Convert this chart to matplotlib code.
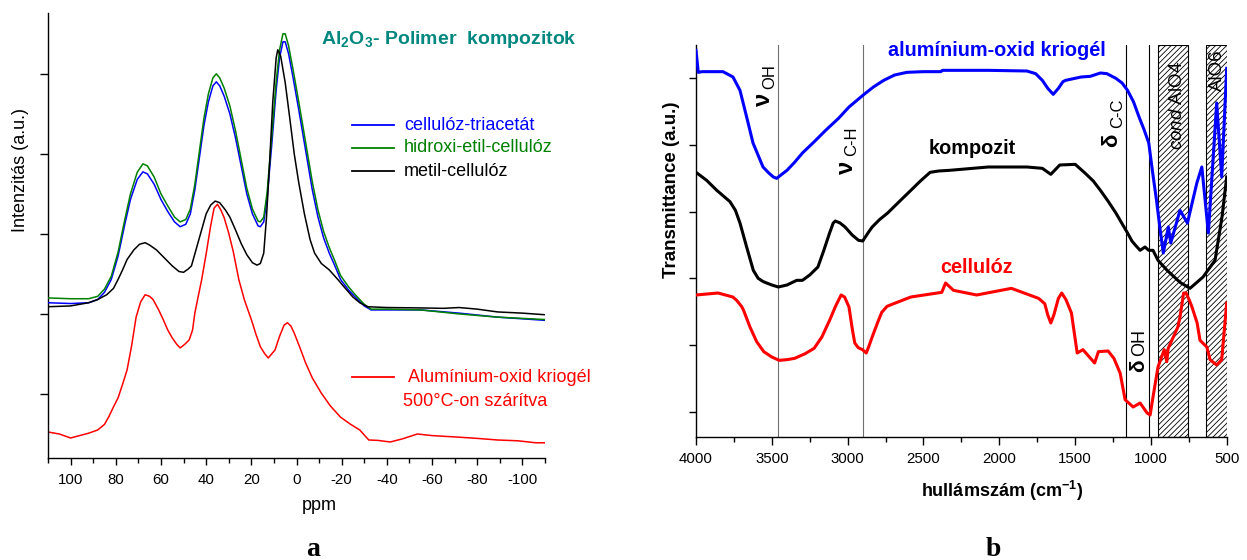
import matplotlib
matplotlib.use("Agg")
import matplotlib.pyplot as plt
from matplotlib.lines import Line2D

plt.rcParams['font.family'] = ['Liberation Sans', 'DejaVu Sans']
plt.rcParams['mathtext.fontset'] = 'custom'
plt.rcParams['mathtext.rm'] = 'Liberation Sans'
plt.rcParams['mathtext.bf'] = 'Liberation Sans:bold'
plt.rcParams['mathtext.it'] = 'Liberation Sans:italic'
plt.rcParams['hatch.linewidth'] = 0.6
plt.rcParams['axes.unicode_minus'] = False

# ---------------- panel a : NMR (ppm) ----------------
ppm_red = [110, 105, 100, 96, 92, 88, 85, 83, 81, 79, 77, 75, 73, 71, 69, 67, 65, 63.5, 61, 59, 57,
           55, 53, 51.5, 49.5, 47.5, 46, 45, 43.5, 42, 40, 38, 36.5, 35, 33.5, 32, 30, 28, 25.5,
           23, 20, 18, 16, 14, 12.5, 11, 9.5, 7.5, 5.5, 4, 2.5, 1, -1.5, -4, -7, -11, -15, -19.5,
           -24, -28, -32, -36, -41.5, -47, -53.5, -60, -66, -72, -80, -89, -98, -106, -110]
int_red = [-0.475, -0.50, -0.55, -0.52, -0.49, -0.45, -0.38, -0.28, -0.16, -0.05, 0.12, 0.30, 0.60,
           0.96, 1.15, 1.24, 1.22, 1.18, 1.05, 0.93, 0.80, 0.70, 0.62, 0.575, 0.62, 0.675, 0.80,
           1.01, 1.22, 1.425, 1.75, 2.10, 2.32, 2.37, 2.30, 2.20, 2.01, 1.78, 1.425, 1.17, 0.93,
           0.75, 0.59, 0.50, 0.45, 0.50, 0.55, 0.72, 0.86, 0.89, 0.85, 0.76, 0.58, 0.39, 0.20,
           0.01, -0.15, -0.29, -0.38, -0.45, -0.575, -0.58, -0.60, -0.56, -0.50, -0.52, -0.53,
           -0.54, -0.555, -0.575, -0.585, -0.61, -0.61]

ppm_ct = [110, 100, 92, 88, 85, 82, 79, 76, 73.5, 70.5, 68, 66, 63, 60, 57, 54, 51.5, 49, 47, 45,
          43, 41, 39, 37, 35.5, 34, 32, 29.5, 27, 24.5, 22, 19.5, 17, 16, 14.5, 13, 11, 9, 7.5, 6,
          5, 3.5, 1.5, -1, -4, -7, -9.5, -12, -14.5, -17, -19.5, -23, -26, -30, -33, -40, -55,
          -72, -89, -110]
int_blue = [1.14, 1.13, 1.14, 1.18, 1.27, 1.43, 1.72, 2.12, 2.43, 2.68, 2.775, 2.75, 2.62, 2.43,
            2.28, 2.15, 2.09, 2.12, 2.25, 2.55, 2.95, 3.35, 3.65, 3.85, 3.90, 3.85, 3.72, 3.50,
            3.20, 2.85, 2.50, 2.25, 2.10, 2.09, 2.15, 2.45, 3.10, 3.80, 4.20, 4.40, 4.40, 4.25,
            3.95, 3.55, 3.05, 2.55, 2.21, 1.95, 1.76, 1.60, 1.43, 1.30, 1.21, 1.10, 1.05, 1.05,
            1.05, 1.01, 0.96, 0.92]
int_green = [1.20, 1.19, 1.19, 1.22, 1.31, 1.47, 1.77, 2.18, 2.50, 2.77, 2.875, 2.85, 2.71, 2.50,
             2.35, 2.21, 2.15, 2.18, 2.31, 2.62, 3.03, 3.44, 3.75, 3.95, 4.00, 3.95, 3.82, 3.60,
             3.29, 2.93, 2.57, 2.31, 2.16, 2.15, 2.21, 2.52, 3.20, 3.90, 4.30, 4.50, 4.50, 4.35,
             4.05, 3.65, 3.15, 2.65, 2.30, 2.03, 1.83, 1.66, 1.48, 1.34, 1.24, 1.12, 1.06, 1.06,
             1.05, 1.00, 0.96, 0.93]

ppm_mc = [110, 100, 92, 88, 84, 81, 79, 77, 75, 72, 69.5, 67, 65, 62, 58.5, 55, 52, 50, 48, 46.5,
          44.5, 42, 40, 38, 36, 34, 31.5, 29.5, 27, 24.5, 22, 19.5, 17.5, 16, 14.5, 13.3, 12,
          10.5, 9, 8.3, 7, 5, 3, 1, -1, -3.5, -6, -8, -11, -14.5, -18, -21, -25, -28, -31.5,
          -40, -55, -65, -72, -80, -89, -100, -110]
int_black = [1.09, 1.10, 1.14, 1.18, 1.24, 1.32, 1.43, 1.55, 1.68, 1.80, 1.87, 1.89, 1.86, 1.80,
             1.70, 1.60, 1.53, 1.52, 1.56, 1.60, 1.80, 2.05, 2.25, 2.36, 2.41, 2.39, 2.30, 2.21,
             2.05, 1.88, 1.74, 1.64, 1.61, 1.63, 1.76, 2.20, 2.84, 3.65, 4.20, 4.30, 4.22, 3.89,
             3.45, 3.00, 2.64, 2.25, 1.93, 1.76, 1.63, 1.55, 1.44, 1.34, 1.21, 1.14, 1.09, 1.08,
             1.075, 1.07, 1.08, 1.06, 1.025, 1.01, 0.99]

ppm_ticks = [100, 80, 60, 40, 20, 0, -20, -40, -60, -80, -100]
legend_a = ['cellulóz-triacetát', 'hidroxi-etil-cellulóz', 'metil-cellulóz']

# ---------------- panel b : FTIR ----------------
wn_blue = [4000, 3985, 3960, 3822, 3756, 3710, 3666, 3624, 3558, 3520, 3490, 3468, 3440, 3400,
           3350, 3298, 3220, 3145, 3060, 2991, 2897, 2830, 2762, 2690, 2609, 2500, 2385, 2375,
           2073, 1818, 1760, 1716, 1680, 1644, 1610, 1580, 1562, 1460, 1400, 1333, 1290, 1231,
           1190, 1154, 1115, 1078, 1045, 1014, 988, 963, 939, 918, 885, 869, 808, 759, 697, 664,
           621, 566, 533, 500]
t_blue = [5.42, 5.09, 5.10, 5.10, 5.02, 4.82, 4.42, 4.03, 3.67, 3.58, 3.52, 3.50, 3.55, 3.62,
          3.74, 3.88, 4.05, 4.22, 4.40, 4.57, 4.75, 4.87, 4.97, 5.05, 5.09, 5.10, 5.10, 5.12,
          5.12, 5.11, 5.07, 4.97, 4.85, 4.76, 4.85, 4.95, 4.97, 5.02, 5.03, 5.08, 5.07, 5.00,
          4.93, 4.82, 4.65, 4.42, 4.23, 4.03, 3.58, 3.17, 2.73, 2.38, 2.77, 2.53, 3.02, 2.83,
          3.43, 3.67, 2.68, 4.63, 3.52, 5.15]

wn_black = [4000, 3930, 3863, 3776, 3740, 3710, 3666, 3622, 3590, 3556, 3500, 3457, 3400, 3336,
            3298, 3250, 3196, 3160, 3119, 3095, 3081, 3050, 3017, 2970, 2928, 2900, 2889, 2860,
            2838, 2790, 2736, 2660, 2583, 2520, 2456, 2400, 2328, 2073, 1818, 1716, 1660, 1601,
            1499, 1435, 1380, 1333, 1280, 1231, 1190, 1154, 1125, 1103, 1071, 1039, 1014, 986,
            953, 893, 808, 742, 656, 577, 531, 500]
t_black = [3.59, 3.47, 3.32, 3.15, 3.02, 2.83, 2.47, 2.12, 2.00, 1.95, 1.90, 1.87, 1.90, 1.97,
           1.97, 2.05, 2.17, 2.40, 2.68, 2.83, 2.86, 2.83, 2.77, 2.65, 2.57, 2.56, 2.60, 2.70,
           2.77, 2.88, 2.98, 3.15, 3.32, 3.46, 3.59, 3.61, 3.62, 3.67, 3.67, 3.65, 3.56, 3.70,
           3.71, 3.58, 3.46, 3.32, 3.15, 2.98, 2.82, 2.68, 2.56, 2.50, 2.42, 2.47, 2.42, 2.42,
           2.27, 2.12, 1.94, 1.85, 2.02, 2.27, 2.92, 3.52]

wn_red = [4000, 3855, 3757, 3732, 3700, 3688, 3644, 3600, 3553, 3500, 3451, 3400, 3349, 3280,
          3221, 3170, 3119, 3080, 3043, 3020, 2991, 2970, 2953, 2930, 2902, 2877, 2860, 2838,
          2800, 2775, 2740, 2685, 2583, 2379, 2354, 2302, 2149, 1920, 1741, 1700, 1680, 1660,
          1640, 1610, 1588, 1560, 1524, 1500, 1486, 1448, 1371, 1346, 1282, 1244, 1203, 1170,
          1117, 1071, 1025, 1005, 986, 953, 912, 895, 886, 822, 808, 784, 768, 746, 729, 695,
          676, 631, 610, 566, 533, 500]
t_red = [1.75, 1.78, 1.72, 1.67, 1.58, 1.53, 1.27, 1.05, 0.90, 0.82, 0.77, 0.78, 0.80, 0.87,
         0.95, 1.12, 1.37, 1.58, 1.75, 1.72, 1.57, 1.25, 1.03, 0.96, 0.93, 0.88, 0.98, 1.12,
         1.35, 1.49, 1.58, 1.63, 1.72, 1.79, 1.93, 1.82, 1.75, 1.85, 1.70, 1.62, 1.45, 1.33,
         1.45, 1.70, 1.78, 1.68, 1.48, 1.10, 0.88, 0.93, 0.73, 0.90, 0.91, 0.80, 0.58, 0.18,
         0.07, 0.13, -0.02, -0.05, 0.22, 0.67, 0.93, 0.75, 0.95, 1.27, 1.42, 1.78, 1.78, 1.67,
         1.57, 1.33, 1.07, 0.97, 0.78, 0.70, 0.78, 1.63]

wn_ticks = [4000, 3500, 3000, 2500, 2000, 1500, 1000, 500]
band_lines = [3460, 2900, 1166, 1014]
band_colors = ['#707070', '#707070', '#000000', '#000000']
boxes = [(951, 753), (638, 500)]

# ---------------- figure ----------------
W, H = 1247, 560
fig = plt.figure(figsize=(W / 100, H / 100), dpi=100)


def fx(px):
    return px / W


def fy(py):
    return 1 - py / H


TICK_FS = 10.8

# panel a
axA = fig.add_axes([fx(48), fy(458), (545 - 48) / W, (458 - 13) / H])
axA.plot(ppm_ct, int_blue, color='#0000ff', lw=1.1, zorder=3)
axA.plot(ppm_ct, int_green, color='#008000', lw=1.1, zorder=3)
axA.plot(ppm_mc, int_black, color='black', lw=1.1, zorder=4)
axA.plot(ppm_red, int_red, color='#ff0000', lw=1.1, zorder=2)
axA.set_xlim(110, -110)
axA.set_ylim(-0.8, 4.76)
axA.set_xticks(ppm_ticks)
axA.set_xticks(list(range(-110, 111, 10)), minor=True)
axA.set_yticks([0, 1, 2, 3, 4])
axA.set_yticklabels([])
for s in ['top', 'right']:
    axA.spines[s].set_visible(False)
for s in ['left', 'bottom']:
    axA.spines[s].set_linewidth(1.0)
axA.tick_params(axis='x', which='major', direction='out', length=5, width=1.0,
                labelsize=TICK_FS, pad=6)
axA.tick_params(axis='x', which='minor', direction='out', length=3.5, width=1.0)
axA.tick_params(axis='y', which='major', direction='out', length=6, width=1.0)

fig.text(fx(21), fy(170), 'Intenzitás (a.u.)', rotation=90, ha='center', va='center', fontsize=13)
fig.text(fx(319), fy(505), 'ppm', ha='center', va='center', fontsize=13)
fig.text(fx(449), fy(40), r'$\mathbf{Al_2O_3}$- Polimer  kompozitok', ha='center', va='center',
         fontsize=14, fontweight='bold', color='#00877f')

leg_cols = ['#0000ff', '#008000', 'black']
for i, (lab, c) in enumerate(zip(legend_a, leg_cols)):
    yy = 125 + i * 23
    fig.add_artist(Line2D([fx(352), fx(394)], [fy(yy), fy(yy)], color=c, lw=1.3,
                          transform=fig.transFigure))
    fig.text(fx(404), fy(yy), lab, ha='left', va='center', fontsize=13, color=c)
fig.add_artist(Line2D([fx(352), fx(394)], [fy(377), fy(377)], color='#ff0000', lw=1.3,
                      transform=fig.transFigure))
fig.text(fx(404), fy(377), ' Alumínium-oxid kriogél', ha='left', va='center', fontsize=13, color='#ff0000')
fig.text(fx(403), fy(401), '500°C-on szárítva', ha='left', va='center', fontsize=13, color='#ff0000')

fig.text(fx(313), fy(549), 'a', ha='center', va='center', fontsize=20, fontweight='bold',
         family='Liberation Serif')

# panel b
axB = fig.add_axes([fx(696), fy(437), (1226.7 - 696) / W, (437 - 45) / H])
for (a, b) in boxes:
    axB.axvspan(b, a, facecolor='white', edgecolor='black', hatch='//////', lw=0.8, zorder=1)
for x, c in zip(band_lines, band_colors):
    axB.axvline(x, color=c, lw=0.8, zorder=1.5)
axB.plot(wn_blue, t_blue, color='#0000ff', lw=2.2, zorder=3)
axB.plot(wn_black, t_black, color='black', lw=2.2, zorder=3)
axB.plot(wn_red, t_red, color='#ff0000', lw=2.2, zorder=3)
axB.set_xlim(4000, 500)
axB.set_ylim(-0.38, 5.5)
axB.set_xticks(wn_ticks)
axB.set_xticks(list(range(500, 4001, 250)), minor=True)
axB.set_yticks([0, 1, 2, 3, 4, 5])
axB.set_yticklabels([])
for s in ['top', 'right']:
    axB.spines[s].set_visible(False)
for s in ['left', 'bottom']:
    axB.spines[s].set_linewidth(1.0)
axB.tick_params(axis='x', which='major', direction='out', length=5.5, width=1.0,
                labelsize=TICK_FS, pad=5)
axB.tick_params(axis='x', which='minor', direction='out', length=3.8, width=1.0)
axB.tick_params(axis='y', which='major', direction='out', length=5, width=1.0)

fig.text(fx(671), fy(190), 'Transmittance (a.u.)', rotation=90, ha='center', va='center',
         fontsize=13.5, fontweight='bold')
fig.text(fx(1002), fy(491), r'hullámszám (cm$^{\mathbf{-1}}$)', ha='center', va='center',
         fontsize=13, fontweight='bold')
fig.text(fx(993), fy(549), 'b', ha='center', va='center', fontsize=20, fontweight='bold',
         family='Liberation Serif')

fig.text(fx(997), fy(50), 'alumínium-oxid kriogél', ha='center', va='center', fontsize=14.3,
         fontweight='bold', color='#0000ff')
fig.text(fx(972), fy(148), 'kompozit', ha='center', va='center', fontsize=14.3,
         fontweight='bold', color='black')
fig.text(fx(977), fy(267), 'cellulóz', ha='center', va='center', fontsize=14.3,
         fontweight='bold', color='#ff0000')

# band annotations (rotated)
fig.text(fx(763), fy(99), 'ν', rotation=90, ha='center', va='center', fontsize=17, fontweight='bold')
fig.text(fx(770), fy(77), 'OH', rotation=90, ha='center', va='center', fontsize=12)
fig.text(fx(846), fy(167), 'ν', rotation=90, ha='center', va='center', fontsize=17, fontweight='bold')
fig.text(fx(852), fy(141), 'C-H', rotation=90, ha='center', va='center', fontsize=12)
fig.text(fx(1112), fy(140), 'δ', rotation=90, ha='center', va='center', fontsize=16, fontweight='bold')
fig.text(fx(1118), fy(113), 'C-C', rotation=90, ha='center', va='center', fontsize=12)
fig.text(fx(1139), fy(366), 'δ', rotation=90, ha='center', va='center', fontsize=15, fontweight='bold')
fig.text(fx(1140), fy(342), 'OH', rotation=90, ha='center', va='center', fontsize=13)
fig.text(fx(1177), fy(106), r'$\mathit{cond}$ AlO4', rotation=90, ha='center', va='center',
         fontsize=13.5)
fig.text(fx(1217), fy(70), 'AlO6', rotation=90, ha='center', va='center', fontsize=13.5)

fig.savefig('out.png', dpi=100)
